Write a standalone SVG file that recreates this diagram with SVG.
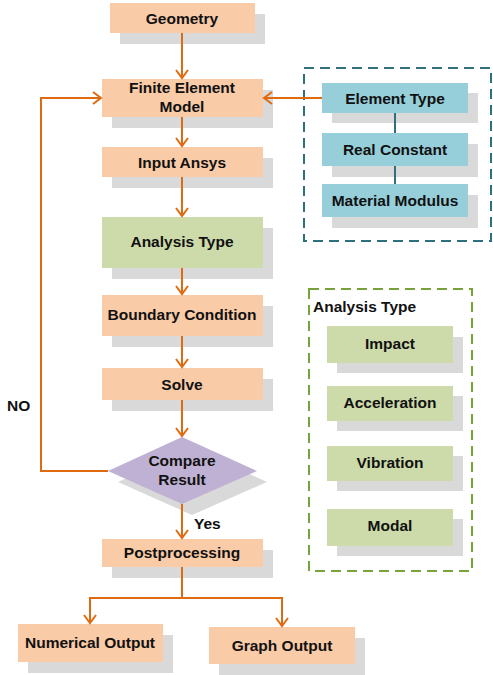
<svg xmlns="http://www.w3.org/2000/svg" width="493" height="675" viewBox="0 0 493 675">
  <style>
    .shadow { fill: #D9D9D9; }
    .peach { fill: #F9CBA7; }
    .green { fill: #CDDBAA; }
    .blue { fill: #96CFDA; }
    .purple { fill: #BFB1D3; }
    .lbl { font-family: "Liberation Sans", Arial, sans-serif; font-weight: bold; font-size: 15.5px; fill: #111; text-anchor: middle; }
    .lbl-left { font-family: "Liberation Sans", Arial, sans-serif; font-weight: bold; font-size: 15.5px; fill: #111; }
    .flow { fill: none; stroke: #E06A10; stroke-width: 2; }
    .link { fill: none; stroke: #2F6F7E; stroke-width: 2; }
  </style>
  <defs>
    <marker id="arrow" markerUnits="userSpaceOnUse" markerWidth="16" markerHeight="16" viewBox="-10 -8 12 16" refX="0" refY="0" orient="auto">
      <path d="M-8,-6 L0,0 L-8,6" fill="none" stroke="#E06A10" stroke-width="2"/>
    </marker>
  </defs>

  <!-- group frames -->
  <rect id="group-element" x="304" y="68" width="187" height="173" fill="none" stroke="#2F6F7E" stroke-width="2" stroke-dasharray="10,6"/>
  <rect id="group-analysis" x="309" y="289" width="163" height="282" fill="none" stroke="#77A33B" stroke-width="2" stroke-dasharray="10,6"/>
  <text class="lbl-left" x="313" y="312">Analysis Type</text>

  <g id="geometry">
    <rect class="shadow" x="120" y="14" width="145" height="30"/>
    <rect class="peach" x="110" y="3" width="145" height="30"/>
    <text class="lbl" x="182" y="24">Geometry</text>
  </g>
  <g id="fem">
    <rect class="shadow" x="112" y="90" width="161" height="38"/>
    <rect class="peach" x="102" y="79" width="161" height="38"/>
    <text class="lbl" x="182" y="93">Finite Element</text>
    <text class="lbl" x="182" y="112">Model</text>
  </g>
  <g id="input-ansys">
    <rect class="shadow" x="112" y="158" width="161" height="30"/>
    <rect class="peach" x="102" y="147" width="161" height="30"/>
    <text class="lbl" x="182" y="168">Input Ansys</text>
  </g>
  <g id="analysis-type">
    <rect class="shadow" x="112" y="228" width="161" height="51"/>
    <rect class="green" x="102" y="217" width="161" height="51"/>
    <text class="lbl" x="182" y="247">Analysis Type</text>
  </g>
  <g id="boundary">
    <rect class="shadow" x="112" y="306" width="161" height="41"/>
    <rect class="peach" x="102" y="295" width="161" height="41"/>
    <text class="lbl" x="182" y="320">Boundary Condition</text>
  </g>
  <g id="solve">
    <rect class="shadow" x="112" y="379" width="161" height="32"/>
    <rect class="peach" x="102" y="368" width="161" height="32"/>
    <text class="lbl" x="182" y="390">Solve</text>
  </g>
  <g id="compare">
    <polygon class="shadow" points="192,448 267,482 192,515 118,482"/>
    <polygon class="purple" points="182,437 257,471 182,504 108,471"/>
    <text class="lbl" x="182" y="466">Compare</text>
    <text class="lbl" x="182" y="485">Result</text>
  </g>
  <text class="lbl-left" x="194" y="529">Yes</text>
  <text class="lbl-left" x="7" y="411">NO</text>
  <g id="postprocessing">
    <rect class="shadow" x="112" y="550" width="161" height="28"/>
    <rect class="peach" x="102" y="539" width="161" height="28"/>
    <text class="lbl" x="182" y="558">Postprocessing</text>
  </g>
  <g id="numerical-output">
    <rect class="shadow" x="28" y="635" width="145" height="38"/>
    <rect class="peach" x="18" y="624" width="145" height="38"/>
    <text class="lbl" x="90" y="648">Numerical Output</text>
  </g>
  <g id="graph-output">
    <rect class="shadow" x="219" y="638" width="146" height="37"/>
    <rect class="peach" x="209" y="627" width="146" height="37"/>
    <text class="lbl" x="282" y="651">Graph Output</text>
  </g>

  <g id="element-type">
    <rect class="shadow" x="332" y="93" width="146" height="30"/>
    <rect class="blue" x="322" y="83" width="146" height="30"/>
    <text class="lbl" x="395" y="104">Element Type</text>
  </g>
  <g id="real-constant">
    <rect class="shadow" x="332" y="144" width="146" height="33"/>
    <rect class="blue" x="322" y="133" width="146" height="33"/>
    <text class="lbl" x="395" y="155">Real Constant</text>
  </g>
  <g id="material-modulus">
    <rect class="shadow" x="332" y="195" width="146" height="33"/>
    <rect class="blue" x="322" y="184" width="146" height="33"/>
    <text class="lbl" x="395" y="206">Material Modulus</text>
  </g>

  <g id="impact">
    <rect class="shadow" x="337" y="337" width="126" height="36"/>
    <rect class="green" x="327" y="326" width="126" height="37"/>
    <text class="lbl" x="390" y="349">Impact</text>
  </g>
  <g id="acceleration">
    <rect class="shadow" x="337" y="396" width="126" height="35"/>
    <rect class="green" x="327" y="386" width="126" height="35"/>
    <text class="lbl" x="390" y="408">Acceleration</text>
  </g>
  <g id="vibration">
    <rect class="shadow" x="337" y="456" width="126" height="35"/>
    <rect class="green" x="327" y="446" width="126" height="35"/>
    <text class="lbl" x="390" y="468">Vibration</text>
  </g>
  <g id="modal">
    <rect class="shadow" x="337" y="519" width="126" height="37"/>
    <rect class="green" x="327" y="509" width="126" height="37"/>
    <text class="lbl" x="390" y="531">Modal</text>
  </g>

  <!-- connectors, drawn over the box shadows -->
  <g id="connectors">
    <line class="flow" x1="182" y1="33" x2="182" y2="78" marker-end="url(#arrow)"/>
    <line class="flow" x1="182" y1="117" x2="182" y2="146" marker-end="url(#arrow)"/>
    <line class="flow" x1="182" y1="177" x2="182" y2="216" marker-end="url(#arrow)"/>
    <line class="flow" x1="182" y1="268" x2="182" y2="294" marker-end="url(#arrow)"/>
    <line class="flow" x1="182" y1="336" x2="182" y2="367" marker-end="url(#arrow)"/>
    <line class="flow" x1="182" y1="400" x2="182" y2="436" marker-end="url(#arrow)"/>
    <line class="flow" x1="182" y1="504" x2="182" y2="538" marker-end="url(#arrow)"/>
    <polyline class="flow" points="108,471 41,471 41,98 101,98" marker-end="url(#arrow)"/>
    <line class="flow" x1="322" y1="98" x2="264" y2="98" marker-end="url(#arrow)"/>
    <line class="flow" x1="182" y1="567" x2="182" y2="598"/>
    <polyline class="flow" points="182,598 90,598 90,623" marker-end="url(#arrow)"/>
    <polyline class="flow" points="182,598 282,598 282,626" marker-end="url(#arrow)"/>
    <line class="link" x1="395" y1="113" x2="395" y2="133"/>
    <line class="link" x1="395" y1="166" x2="395" y2="184"/>
  </g>
</svg>
